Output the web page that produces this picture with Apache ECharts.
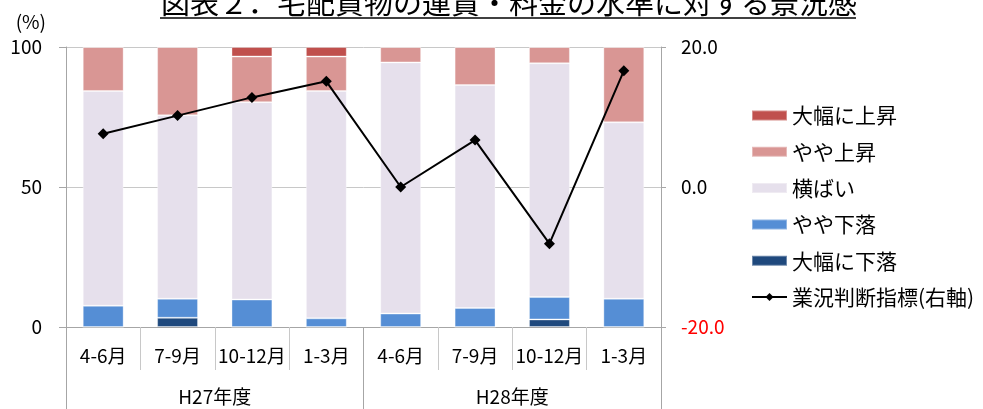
<!DOCTYPE html>
<html>
<head>
<meta charset="utf-8">
<script src="https://cdn.jsdelivr.net/npm/echarts@6/dist/echarts.min.js"></script>
<style>
  html, body { margin: 0; padding: 0; background: #fff; }
  #chart { width: 983px; height: 409px; }
</style>
</head>
<body>
<div id="chart"></div>
<script>
// Quarterly periods and fiscal years
const quarters = ['4-6月', '7-9月', '10-12月', '1-3月', '4-6月', '7-9月', '10-12月', '1-3月'];
const fiscalYears = ['H27年度', 'H28年度'];

// Share of responses (%), stacked from the bottom up
const bigFall   = [0, 3.3, 0, 0, 0, 0, 2.7, 0];
const smallFall = [7.6, 6.8, 9.8, 3.1, 4.8, 6.8, 8.0, 10.1];
const flat      = [76.7, 65.5, 70.5, 81.2, 89.7, 79.6, 83.5, 63.0];
const smallRise = [15.7, 24.4, 16.3, 12.3, 5.5, 13.6, 5.8, 26.9];
const bigRise   = [0, 0, 3.4, 3.4, 0, 0, 0, 0];

// Business sentiment index (right axis)
const sentiment = [7.6, 10.2, 12.8, 15.1, 0.0, 6.7, -8.1, 16.6];

// Axis ticks
const leftTicks = { min: 0, max: 100, interval: 50 };
const rightTicks = { min: -20, max: 20, interval: 20 };

const FONT = '"Noto Sans CJK JP", "Noto Sans", sans-serif';
const GREY = '#A6A6A6';

const chart = echarts.init(document.getElementById('chart'), null, { renderer: 'canvas' });

function barSeries(name, data, color) {
  return {
    name: name,
    type: 'bar',
    stack: 'share',
    yAxisIndex: 0,
    xAxisIndex: 0,
    barWidth: '55%',
    data: data,
    itemStyle: { color: color, borderColor: 'rgba(255,255,255,0.35)', borderWidth: 1 },
    emphasis: { disabled: true }
  };
}

chart.setOption({
  animation: false,
  textStyle: { fontFamily: FONT },
  title: {
    text: '図表２．宅配貨物の運賃・料金の水準に対する景況感',
    left: 156,
    top: -17,
    textStyle: { fontFamily: FONT, fontSize: 29, fontWeight: 'normal', color: '#000', lineHeight: 29 }
  },
  graphic: [
    { type: 'line', shape: { x1: 160, y1: 18, x2: 856, y2: 18 }, style: { stroke: '#000', lineWidth: 1.5 } }
  ],
  grid: { left: 66, right: 322, top: 47, bottom: 82 },
  legend: {
    orient: 'vertical',
    left: 746,
    top: 100,
    itemWidth: 35,
    itemHeight: 10,
    itemGap: 15.3,
    textStyle: { fontFamily: FONT, fontSize: 21, color: '#000', lineHeight: 21 },
    data: [
      { name: '大幅に上昇', icon: 'rect' },
      { name: 'やや上昇', icon: 'rect' },
      { name: '横ばい', icon: 'rect' },
      { name: 'やや下落', icon: 'rect' },
      { name: '大幅に下落', icon: 'rect' },
      { name: '業況判断指標(右軸)' }
    ]
  },
  xAxis: [
    {
      type: 'category',
      data: quarters,
      position: 'bottom',
      axisLine: { show: true, onZero: false, lineStyle: { color: GREY, width: 1 } },
      axisTick: { show: true, interval: 0, length: 43, lineStyle: { color: '#C8C8C8' } },
      axisLabel: { interval: 0, fontFamily: FONT, fontSize: 19, color: '#000', margin: 19 }
    },
    {
      type: 'category',
      data: fiscalYears,
      position: 'bottom',
      gridIndex: 0,
      axisLine: { show: false, onZero: false },
      axisTick: { show: true, interval: 0, length: 82, lineStyle: { color: GREY } },
      axisLabel: { interval: 0, fontFamily: FONT, fontSize: 19, color: '#000', margin: 60 }
    }
  ],
  yAxis: [
    {
      type: 'value',
      min: leftTicks.min,
      max: leftTicks.max,
      interval: leftTicks.interval,
      name: '(%)',
      nameLocation: 'end',
      nameGap: 16,
      nameTextStyle: { fontFamily: FONT, fontSize: 19, color: '#000', align: 'right', padding: [0, 20, 0, 0] },
      axisLine: { show: true, lineStyle: { color: GREY } },
      axisTick: { show: true, length: 7, lineStyle: { color: GREY } },
      axisLabel: { fontFamily: FONT, fontSize: 19, color: '#000', margin: 24 },
      splitLine: { show: true, lineStyle: { color: '#C8C8C8' } }
    },
    {
      type: 'value',
      position: 'right',
      min: rightTicks.min,
      max: rightTicks.max,
      interval: rightTicks.interval,
      axisLine: { show: true, lineStyle: { color: GREY } },
      axisTick: { show: true, length: 5, lineStyle: { color: GREY } },
      axisLabel: {
        fontFamily: FONT, fontSize: 19, margin: 20,
        formatter: v => v.toFixed(1),
        color: v => (Number(v) < 0 ? '#FF0000' : '#000')
      },
      splitLine: { show: false }
    }
  ],
  series: [
    barSeries('大幅に下落', bigFall, '#1F497D'),
    barSeries('やや下落', smallFall, '#558ED5'),
    barSeries('横ばい', flat, '#E6E0EC'),
    barSeries('やや上昇', smallRise, '#D99694'),
    barSeries('大幅に上昇', bigRise, '#C0504D'),
    {
      name: '業況判断指標(右軸)',
      type: 'line',
      yAxisIndex: 1,
      xAxisIndex: 0,
      data: sentiment,
      symbol: 'diamond',
      symbolSize: 11,
      lineStyle: { color: '#000', width: 2 },
      itemStyle: { color: '#000' },
      emphasis: { disabled: true },
      z: 5
    }
  ]
});
</script>
</body>
</html>
